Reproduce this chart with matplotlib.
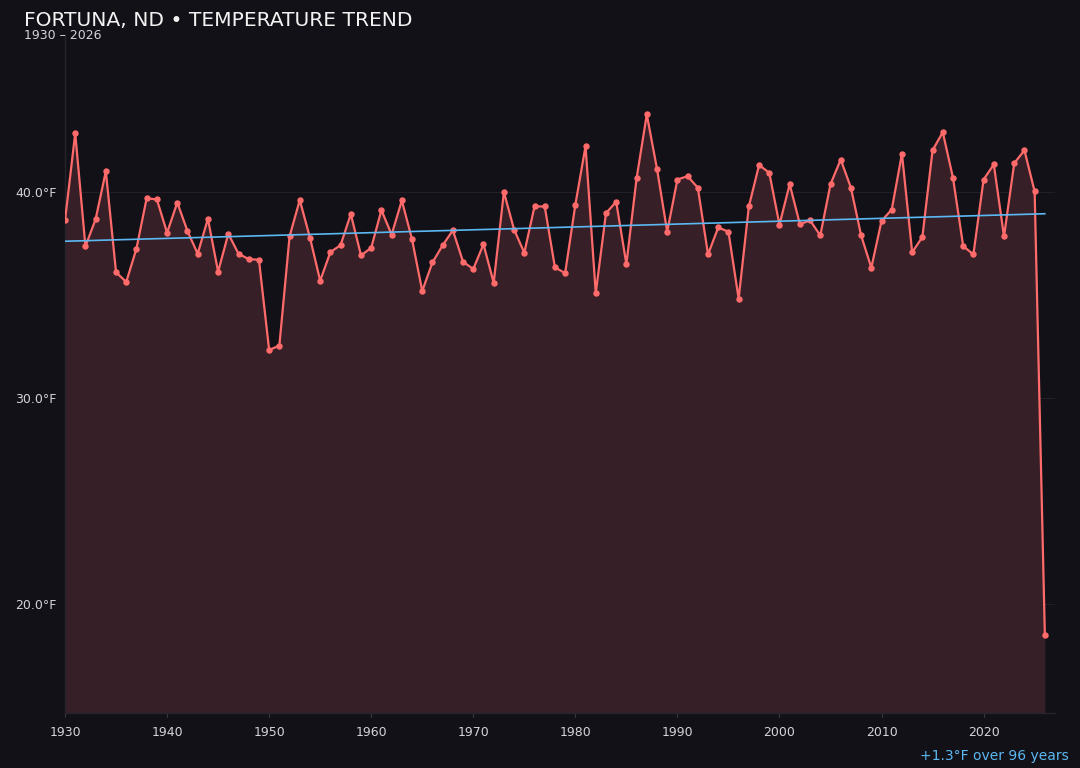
import numpy as np
import matplotlib
matplotlib.use("Agg")
import matplotlib.pyplot as plt
from matplotlib.ticker import MultipleLocator, FuncFormatter

title = "FORTUNA, ND • TEMPERATURE TREND"
subtitle = "1930 – 2026"
footer = "+1.3°F over 96 years"

years = list(range(1930, 2027))
temps = [
    38.64, 42.88, 37.38, 38.70, 41.03, 36.12, 35.65, 37.27, 39.72, 39.66,  # 1930s
    38.04, 39.51, 38.12, 37.02, 38.72, 36.15, 37.99, 37.02, 36.76, 36.73,  # 1940s
    32.34, 32.56, 37.86, 39.63, 37.80, 35.71, 37.10, 37.44, 38.95, 36.94,  # 1950s
    37.31, 39.14, 37.95, 39.61, 37.72, 35.21, 36.60, 37.43, 38.16, 36.63,  # 1960s
    36.28, 37.48, 35.61, 40.02, 38.19, 37.07, 39.32, 39.32, 36.36, 36.08,  # 1970s
    39.40, 42.25, 35.11, 38.99, 39.55, 36.52, 40.68, 43.79, 41.15, 38.09,  # 1980s
    40.63, 40.79, 40.23, 36.99, 38.30, 38.09, 34.84, 39.32, 41.33, 40.96,  # 1990s
    38.43, 40.40, 38.46, 38.64, 37.91, 40.40, 41.60, 40.23, 37.91, 36.34,  # 2000s
    38.62, 39.17, 41.88, 37.09, 37.83, 42.05, 42.93, 40.71, 37.39, 36.99,  # 2010s
    40.63, 41.36, 37.86, 41.42, 42.05, 40.05, 18.50,                       # 2020s
]
x_ticks = [1930, 1940, 1950, 1960, 1970, 1980, 1990, 2000, 2010, 2020]

BG = "#121117"
FILL = "#361f26"
LINE = "#ff6b6b"
TREND = "#5cb8f2"
TEXT = "#f2f2f2"
TICK = "#d4d4d8"
GRID = "#221f26"

x = np.array(years, dtype=float)
y = np.array(temps)

fig = plt.figure(figsize=(10.8, 7.68), dpi=100, facecolor=BG)
ax = fig.add_axes([0.0602, 0.0716, 0.9167, 0.8814], facecolor=BG)

ymin, ymax = 14.7, 47.6
ax.set_xlim(1930, 2027)
ax.set_ylim(ymin, ymax)

ax.fill_between(x, y, ymin, color=FILL, alpha=1.0, zorder=1, linewidth=0)
ax.plot(x, y, color=LINE, lw=1.6, marker="o", markersize=3.6, zorder=3)

# linear trend fitted on all years
coef = np.polyfit(x, y, 1)
xt = np.array([years[0], years[-1]], dtype=float)
ax.plot(xt, np.polyval(coef, xt), color=TREND, lw=1.2, zorder=4)

ax.yaxis.set_major_locator(MultipleLocator(10))
ax.yaxis.set_major_formatter(FuncFormatter(lambda v, p: f"{v:.1f}°F"))
ax.set_xticks(x_ticks)
ax.tick_params(axis="both", colors=TICK, labelsize=9, length=0, pad=6)
ax.tick_params(axis="x", length=3, color="#3a3a40")
ax.grid(axis="y", color=GRID, lw=0.8, zorder=0)
ax.set_axisbelow(True)

for s in ("top", "right"):
    ax.spines[s].set_visible(False)
for s in ("left", "bottom"):
    ax.spines[s].set_color("#26252c")
    ax.spines[s].set_linewidth(1.0)

fig.text(0.022, 0.973, title, color=TEXT, fontsize=14.6, ha="left", va="center")
fig.text(0.022, 0.954, subtitle, color=TICK, fontsize=9, ha="left", va="center")
fig.text(0.990, 0.016, footer, color=TREND, fontsize=10, ha="right", va="center")

fig.savefig("out.png", dpi=100, facecolor=BG)
